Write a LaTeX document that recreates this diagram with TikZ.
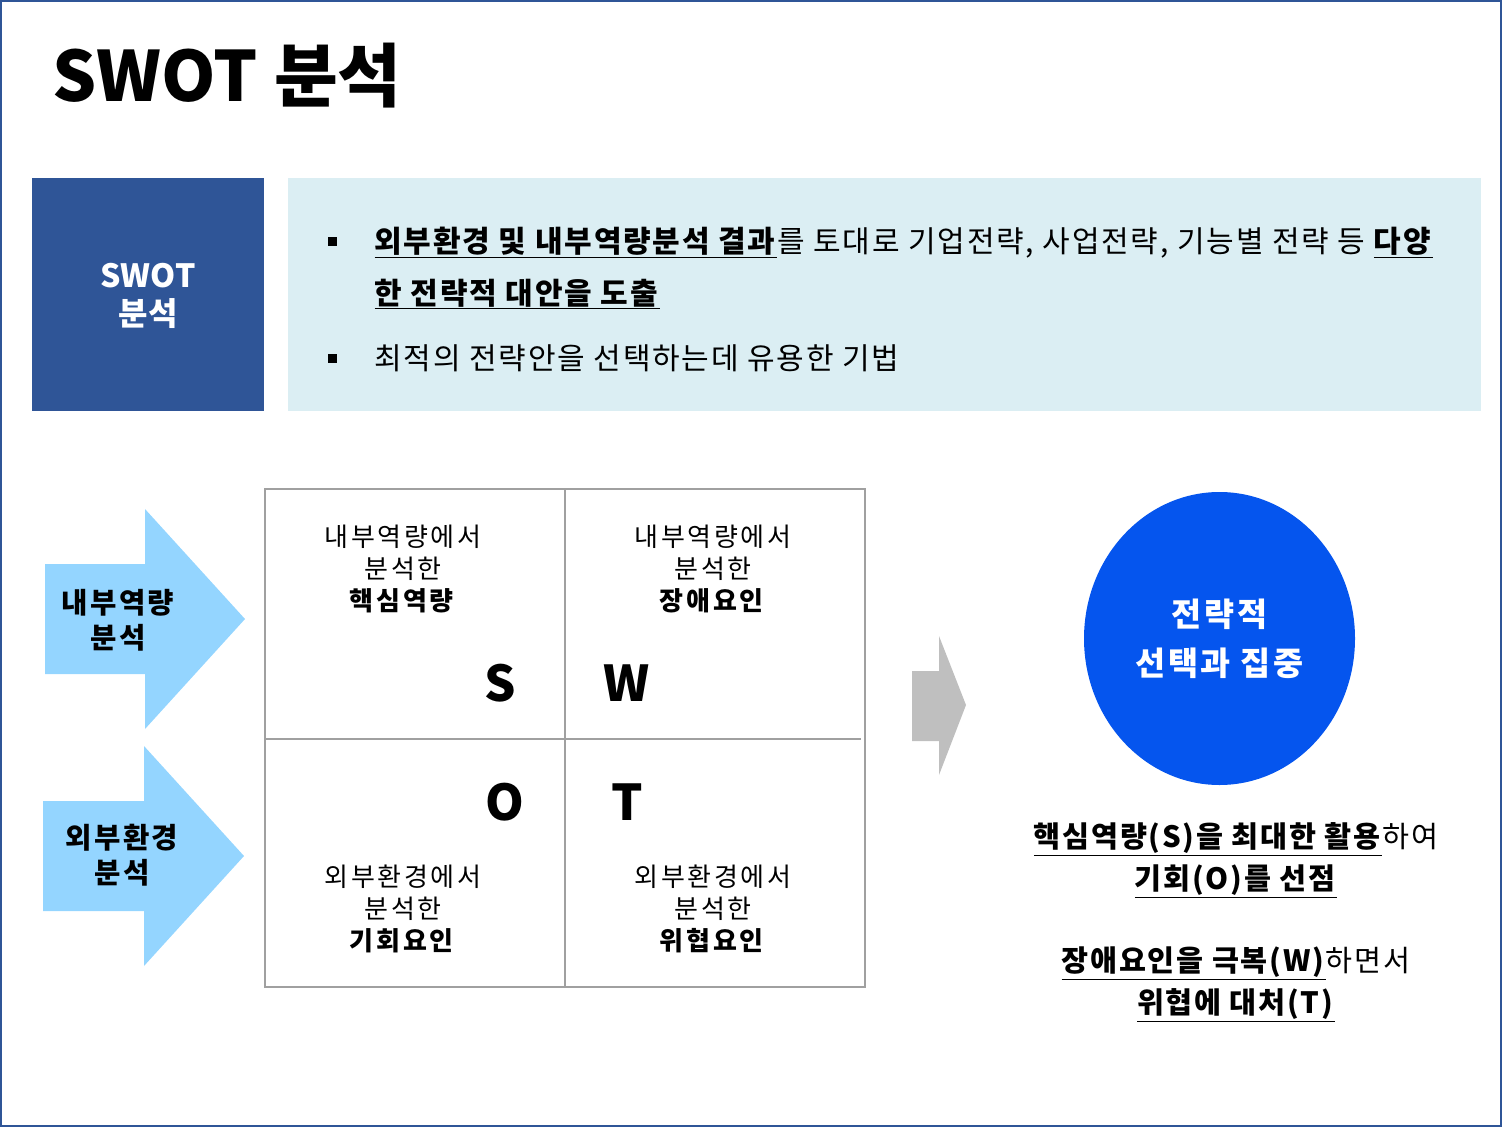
\documentclass[tikz,border=0pt]{standalone}
\usepackage{fontspec}
\setmainfont{Noto Sans CJK KR}
\usetikzlibrary{shapes.geometric}

\definecolor{frameblue}{RGB}{47,85,151}
\definecolor{paleblue}{RGB}{219,238,243}
\definecolor{arrowblue}{RGB}{148,213,255}
\definecolor{arrowgray}{RGB}{191,191,191}
\definecolor{gridgray}{RGB}{160,160,160}
\definecolor{focusblue}{RGB}{5,85,238}

\newcommand{\keyphrase}[1]{\underline{\textbf{#1}}}

\tikzset{every picture/.style={line width=0.75pt}}
\tikzset{
  grid line/.style={draw=gridgray, line width=1.5},
  cell label/.style={align=center, inner sep=0.75pt, font=\fontsize{19.5}{24}\selectfont\addfontfeatures{LetterSpace=10}},
  letter label/.style={inner sep=0.75pt, font=\fontsize{37}{40}\selectfont\bfseries},
  arrow label/.style={align=center, inner sep=0.75pt, font=\fontsize{21.5}{26}\selectfont\addfontfeatures{LetterSpace=8}\bfseries},
  box text/.style={anchor=base west, inner sep=0pt, font=\fontsize{22.5}{27}\selectfont\addfontfeatures{LetterSpace=6}},
  result text/.style={align=center, inner sep=0.75pt, font=\fontsize{22}{31.5}\selectfont\addfontfeatures{LetterSpace=6}},
}

\begin{document}
\begin{tikzpicture}[x=0.75pt,y=0.75pt,yscale=-1,xscale=1]
\useasboundingbox (0,0) rectangle (1502,1127);

%Shape: Rectangle [frame]
\draw [color=frameblue, line width=1.5] (1,1) rectangle (1501,1126);

% Text Node
\node (title) [anchor=base west, inner sep=0pt, font=\fontsize{52}{60}\selectfont\bfseries] at (52,102) {SWOT 분석};

%Shape: Rectangle
\fill [frameblue] (32,178) rectangle (264,411);
% Text Node
\node (swotlabel) [align=center, text=white, inner sep=0.75pt, font=\fontsize{24}{29}\selectfont\bfseries] at (148,296) {SWOT\\분석};

%Shape: Rectangle
\fill [paleblue] (288,178) rectangle (1481,411);
%Shape: Square [bullets]
\fill (328,237) rectangle (337,246);
\fill (328,354) rectangle (337,363);
% Text Node
\node (defA) [box text] at (374,252) {\keyphrase{외부환경 및 내부역량분석 결과}를 토대로 기업전략, 사업전략, 기능별 전략 등 \keyphrase{다양}};
% Text Node
\node (defB) [box text] at (374,304) {\keyphrase{한 전략적 대안을 도출}};
% Text Node
\node (useA) [box text] at (374,369) {최적의 전략안을 선택하는데 유용한 기법};

%Shape: Right Arrow
\fill [arrowblue] (45,564) -- (145,564) -- (145,509) -- (245,619) -- (145,729) -- (145,674) -- (45,674) -- cycle;
\node (inner) [arrow label] at (118,620) {내부역량\\분석};
%Shape: Right Arrow
\fill [arrowblue] (43,801) -- (144,801) -- (144,746) -- (244,856) -- (144,966) -- (144,911) -- (43,911) -- cycle;
\node (outer) [arrow label] at (122,855) {외부환경\\분석};

%Shape: Grid
\draw [grid line] (265,489) rectangle (865,987);
\draw [grid line] (565,489) -- (565,987);
\draw [grid line] (265,739) -- (861,739);

% Text Node
\node (cellS) [cell label] at (403,569) {내부역량에서\\분석한\\\textbf{핵심역량}};
\node (cellW) [cell label] at (713,569) {내부역량에서\\분석한\\\textbf{장애요인}};
\node (cellO) [cell label] at (403,909) {외부환경에서\\분석한\\\textbf{기회요인}};
\node (cellT) [cell label] at (713,909) {외부환경에서\\분석한\\\textbf{위협요인}};
% Text Node
\node (letterS) [letter label] at (500,683) {S};
\node (letterW) [letter label] at (627,683) {W};
\node (letterO) [letter label] at (505,802) {O};
\node (letterT) [letter label] at (627,802) {T};

%Shape: Right Arrow
\fill [arrowgray] (912,671) -- (939,671) -- (939,636) -- (966,705) -- (939,775) -- (939,741) -- (912,741) -- cycle;

%Shape: Ellipse
\node (focus) [ellipse, fill=focusblue, minimum width=203.25pt, minimum height=219.75pt, inner sep=0pt, align=center, text=white, font=\fontsize{24.5}{36.75}\selectfont\addfontfeatures{LetterSpace=8}\bfseries] at (1219.5,638.5) {전략적\\선택과 집중};

% Text Node
\node (resultSO) [result text] at (1236,860) {\keyphrase{핵심역량(S)을 최대한 활용}하여\\\keyphrase{기회(O)를 선점}};
\node (resultWT) [result text] at (1236,984) {\keyphrase{장애요인을 극복(W)}하면서\\\keyphrase{위협에 대처(T)}};

\end{tikzpicture}
\end{document}
